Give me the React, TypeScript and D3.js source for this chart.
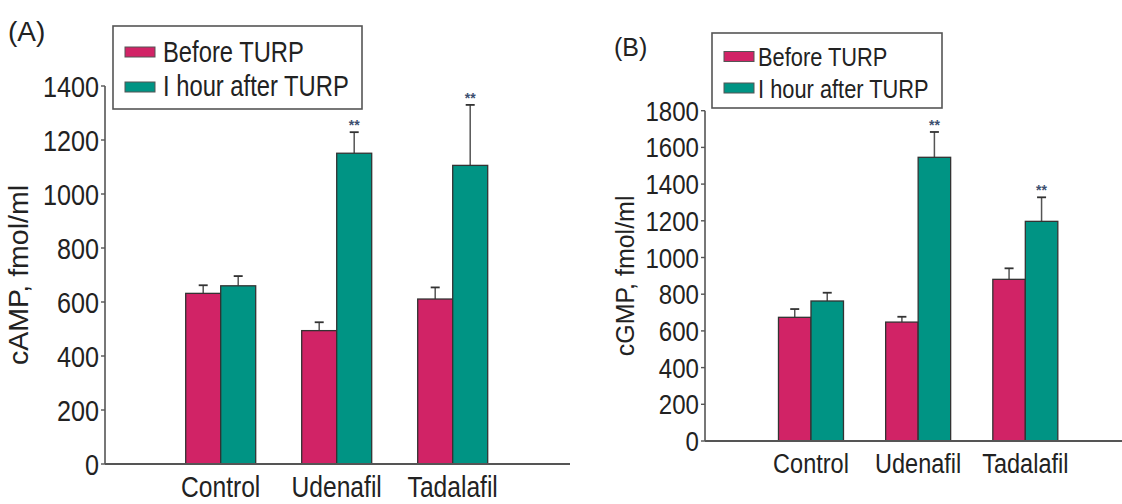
import React from "react";
import * as d3 from "d3";

const categories = ["Control", "Udenafil", "Tadalafil"];
const seriesNames = ["Before TURP", "I hour after TURP"];
const seriesColors = ["#d12366", "#009484"];

// Panel A: cAMP
const campBefore = [632, 494, 611];
const campBeforeErr = [30, 31, 43];
const campAfter = [660, 1151, 1106];
const campAfterErr = [36, 78, 224];
const campSig = ["", "**", "**"];
const campTicks = [0, 200, 400, 600, 800, 1000, 1200, 1400];

// Panel B: cGMP
const cgmpBefore = [674, 648, 881];
const cgmpBeforeErr = [45, 29, 60];
const cgmpAfter = [763, 1546, 1197];
const cgmpAfterErr = [45, 138, 131];
const cgmpSig = ["", "**", "**"];
const cgmpTicks = [0, 200, 400, 600, 800, 1000, 1200, 1400, 1600, 1800];

const FONT = "'Liberation Sans', Arial, Helvetica, sans-serif";

function NText(props: {
  x: number;
  y: number;
  sx: number;
  size: number;
  anchor?: string;
  dy?: string;
  fill?: string;
  children: React.ReactNode;
}) {
  return (
    <g transform={`translate(${props.x},${props.y}) scale(${props.sx},1)`}>
      <text
        x={0}
        y={0}
        dy={props.dy}
        textAnchor={props.anchor || "start"}
        fontFamily={FONT}
        fontSize={props.size}
        fill={props.fill || "#222"}
      >
        {props.children}
      </text>
    </g>
  );
}

type PanelProps = {
  tag: string;
  tagPos: [number, number];
  tagSize: number;
  yLabel: string;
  yLabelX: number;
  yLabelSize: number;
  before: number[];
  beforeErr: number[];
  after: number[];
  afterErr: number[];
  sig: string[];
  ticks: number[];
  yMax: number;
  axisX: number;
  y0: number;
  yTop: number;
  baseEnd: number;
  xRange: [number, number];
  barW: number;
  tickSize: number;
  tickSx: number;
  catSize: number;
  catSx: number;
  catY: number;
  legend: {
    x: number;
    y: number;
    w: number;
    h: number;
    fs: number;
    sx: number;
    sw: number;
    swY: number[];
    baseY: number[];
    textX: number;
  };
};

function Panel(p: PanelProps) {
  const y = d3.scaleLinear().domain([0, p.yMax]).range([p.y0, p.yTop]);
  const x = d3.scaleBand<string>().domain(categories).range(p.xRange).padding(0);
  const bw = x.bandwidth();
  const inner = d3
    .scaleBand<string>()
    .domain(seriesNames)
    .range([bw / 2 - p.barW, bw / 2 + p.barW])
    .padding(0);
  const vals = [p.before, p.after];
  const errs = [p.beforeErr, p.afterErr];
  const axisColor = "#555";
  return (
    <g>
      <text x={p.tagPos[0]} y={p.tagPos[1]} fontFamily={FONT} fontSize={p.tagSize} fill="#222">
        {p.tag}
      </text>
      {/* y axis */}
      <line x1={p.axisX} x2={p.axisX} y1={y(p.yMax)} y2={p.y0} stroke={axisColor} strokeWidth={1.6} />
      {p.ticks.map((t) => (
        <g key={t}>
          <line x1={p.axisX - 4} x2={p.axisX} y1={y(t)} y2={y(t)} stroke={axisColor} strokeWidth={1.4} />
          <NText x={p.axisX - 6} y={y(t)} dy="0.36em" anchor="end" size={p.tickSize} sx={p.tickSx}>
            {t}
          </NText>
        </g>
      ))}
      <text
        transform={`translate(${p.yLabelX},${(y(p.yMax) + p.y0) / 2}) rotate(-90)`}
        textAnchor="middle"
        fontFamily={FONT}
        fontSize={p.yLabelSize}
        fill="#222"
      >
        {p.yLabel}
      </text>
      {/* bars */}
      {categories.map((c, i) => (
        <g key={c} transform={`translate(${x(c)},0)`}>
          {seriesNames.map((s, k) => {
            const v = vals[k][i];
            const e = errs[k][i];
            const bx = inner(s) as number;
            const cx = bx + inner.bandwidth() / 2;
            return (
              <g key={s}>
                <line x1={cx} x2={cx} y1={y(v)} y2={y(v + e)} stroke="#555" strokeWidth={1.5} />
                <line x1={cx - 4.5} x2={cx + 4.5} y1={y(v + e)} y2={y(v + e)} stroke="#333" strokeWidth={1.8} />
                <rect
                  x={bx}
                  y={y(v)}
                  width={inner.bandwidth()}
                  height={p.y0 - y(v)}
                  fill={seriesColors[k]}
                  stroke="#333"
                  strokeWidth={1.3}
                />
                {k === 1 && p.sig[i] ? (
                  <text
                    x={cx}
                    y={y(v + e) - 2}
                    textAnchor="middle"
                    fontFamily={FONT}
                    fontSize={14}
                    fontWeight="bold"
                    fill="#3d4f70"
                  >
                    {p.sig[i]}
                  </text>
                ) : null}
              </g>
            );
          })}
          <NText x={bw / 2} y={p.catY} anchor="middle" size={p.catSize} sx={p.catSx}>
            {c}
          </NText>
        </g>
      ))}
      {/* baseline */}
      <line x1={p.axisX} x2={p.baseEnd} y1={p.y0} y2={p.y0} stroke={axisColor} strokeWidth={1.8} />
      {/* legend */}
      <rect
        x={p.legend.x}
        y={p.legend.y}
        width={p.legend.w}
        height={p.legend.h}
        fill="#fff"
        stroke={axisColor}
        strokeWidth={1.6}
      />
      {seriesNames.map((s, k) => (
        <g key={s}>
          <rect
            x={p.legend.x + 12}
            y={p.legend.swY[k] - p.legend.sw / 2}
            width={30}
            height={p.legend.sw}
            fill={seriesColors[k]}
            stroke="#555"
            strokeWidth={1}
          />
          <NText x={p.legend.textX} y={p.legend.baseY[k]} size={p.legend.fs} sx={p.legend.sx}>
            {s}
          </NText>
        </g>
      ))}
    </g>
  );
}

export default function App() {
  return (
    <svg
      width={1122}
      height={504}
      style={{ position: "absolute", left: 0, top: 0, background: "#fff" }}
    >
      <Panel
        tag="(A)"
        tagPos={[8, 41]}
        tagSize={28}
        yLabel="cAMP, fmol/ml"
        yLabelX={28}
        yLabelSize={28.5}
        before={campBefore}
        beforeErr={campBeforeErr}
        after={campAfter}
        afterErr={campAfterErr}
        sig={campSig}
        ticks={campTicks}
        yMax={1400}
        axisX={105}
        y0={464}
        yTop={86}
        baseEnd={570}
        xRange={[162.7, 510.7]}
        barW={35}
        tickSize={30}
        tickSx={0.84}
        catSize={30}
        catSx={0.82}
        catY={497}
        legend={{
          x: 113,
          y: 26,
          w: 249,
          h: 83,
          fs: 29,
          sx: 0.82,
          sw: 10,
          swY: [52, 87],
          baseY: [62, 96],
          textX: 163,
        }}
      />
      <Panel
        tag="(B)"
        tagPos={[614, 56]}
        tagSize={25}
        yLabel="cGMP, fmol/ml"
        yLabelX={634}
        yLabelSize={25}
        before={cgmpBefore}
        beforeErr={cgmpBeforeErr}
        after={cgmpAfter}
        afterErr={cgmpAfterErr}
        sig={cgmpSig}
        ticks={cgmpTicks}
        yMax={1800}
        axisX={705}
        y0={441}
        yTop={110.7}
        baseEnd={1122}
        xRange={[757.4, 1078.9]}
        barW={32.5}
        tickSize={28}
        tickSx={0.86}
        catSize={28}
        catSx={0.84}
        catY={473}
        legend={{
          x: 712,
          y: 33,
          w: 230,
          h: 75,
          fs: 26,
          sx: 0.84,
          sw: 10,
          swY: [56.5, 88],
          baseY: [66, 98],
          textX: 758,
        }}
      />
    </svg>
  );
}
